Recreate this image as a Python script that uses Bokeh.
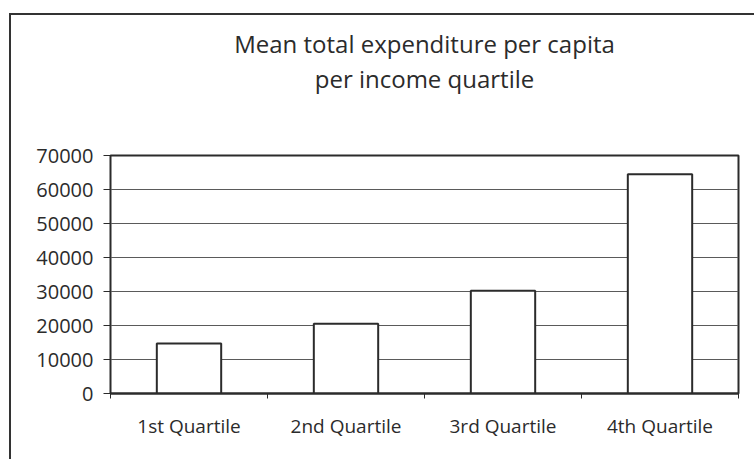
from bokeh.plotting import figure
from bokeh.models import Title, FixedTicker, Range1d, ColumnDataSource
from bokeh.embed import file_html
from bokeh.resources import INLINE

categories = ["1st Quartile", "2nd Quartile", "3rd Quartile", "4th Quartile"]
values = [14700, 20500, 30200, 64500]
y_ticks = [0, 10000, 20000, 30000, 40000, 50000, 60000, 70000]
title_lines = ["Mean total expenditure per capita", "per income quartile"]

FONT = "Open Sans"
INK = "#2b2b2b"

xpos = [i + 0.5 for i in range(len(categories))]
src = ColumnDataSource(dict(x=xpos, top=values, cat=categories))

p = figure(
    title=title_lines[0],
    frame_width=628, frame_height=238,
    min_border_left=99, min_border_right=16, min_border_top=140, min_border_bottom=66,
    x_range=Range1d(0, len(categories)), y_range=Range1d(0, 70000),
    output_backend="svg", toolbar_location=None, tools="",
)
p.margin = (13, 0, 0, 9)
p.styles = {"border-left": "2px solid #333", "border-top": "2px solid #333"}
p.background_fill_color = "white"
p.border_fill_color = "white"
p.outline_line_color = INK
p.outline_line_width = 2

p.title.align = "center"
p.title.text_font = FONT
p.title.text_font_size = "24px"
p.title.text_font_style = "normal"
p.title.text_color = INK
p.title.standoff = 0

# spacer between the title block and the plot frame
spacer = Title(text=" ", text_font=FONT, text_font_size="24px", standoff=26)
p.add_layout(spacer, "above")
t2 = Title(text=title_lines[1], align="center", text_font=FONT,
           text_font_size="24px", text_font_style="normal", text_color=INK, standoff=0)
p.add_layout(t2, "above")

p.vbar(x="x", top="top", width=0.41, bottom=0, source=src,
       fill_color="white", line_color=INK, line_width=2)

p.xgrid.visible = False
p.ygrid.ticker = FixedTicker(ticks=y_ticks)
p.ygrid.grid_line_color = "#5a5a5a"
p.ygrid.grid_line_width = 1

p.yaxis.ticker = FixedTicker(ticks=y_ticks)
p.yaxis.axis_line_color = None
p.yaxis.major_tick_line_color = INK
p.yaxis.major_tick_out = 7
p.yaxis.major_tick_in = 0
p.yaxis.minor_tick_line_color = None
p.yaxis.major_label_standoff = 10
p.yaxis.major_label_text_font = FONT
p.yaxis.major_label_text_font_size = "20px"
p.yaxis.major_label_text_color = INK

p.xaxis.ticker = FixedTicker(ticks=xpos, minor_ticks=list(range(len(categories) + 1)))
p.xaxis.major_label_overrides = {x: c for x, c in zip(xpos, categories)}
p.xaxis.axis_line_color = INK
p.xaxis.axis_line_width = 2
p.xaxis.major_tick_line_color = None
p.xaxis.minor_tick_line_color = INK
p.xaxis.minor_tick_out = 5
p.xaxis.minor_tick_in = 0
p.xaxis.major_label_standoff = 13
p.xaxis.major_label_text_font = FONT
p.xaxis.major_label_text_font_size = "19px"
p.xaxis.major_label_text_color = INK

open("out.html", "w").write(file_html(p, INLINE))
